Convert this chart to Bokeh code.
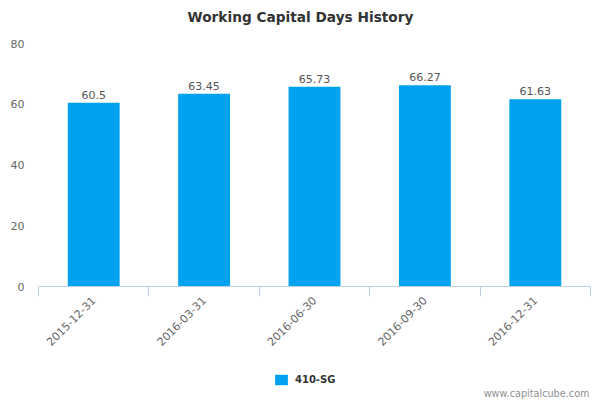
import numpy as np
from bokeh.plotting import figure
from bokeh.layouts import column
from bokeh.models import (Range1d, LinearAxis, FixedTicker, Legend, LegendItem, Label,
                          ColumnDataSource)
from bokeh.core.properties import value
from bokeh.embed import file_html
from bokeh.resources import INLINE

# ---- data ----
categories = ["2015-12-31", "2016-03-31", "2016-06-30", "2016-09-30", "2016-12-31"]
values = [60.5, 63.45, 65.73, 66.27, 61.63]
value_labels = ["60.5", "63.45", "65.73", "66.27", "61.63"]
y_ticks = [0, 20, 40, 60, 80]
series_name = "410-SG"
title_text = "Working Capital Days History"
credit_text = "www.capitalcube.com"

FONT = "DejaVu Sans"
BAR = "#00a2ef"

n = len(categories)
centers = [i + 0.5 for i in range(n)]
bounds = [float(i) for i in range(n + 1)]


def strip(height):
    s = figure(width=600, height=height, output_backend="svg", toolbar_location=None,
               x_range=Range1d(0, 1), y_range=Range1d(0, 1),
               x_axis_type=None, y_axis_type=None,
               min_border_left=0, min_border_right=0, min_border_top=0, min_border_bottom=0)
    s.outline_line_color = None
    s.xgrid.visible = False
    s.ygrid.visible = False
    s.border_fill_color = "white"
    return s


# ---- header strip: title ----
h = strip(35)
h.add_layout(Label(x=262, y=19, x_units="screen", y_units="screen", text=title_text,
                   text_align="center", text_baseline="middle", text_font=FONT,
                   text_font_size="13.7px", text_font_style="bold", text_color="#333333"))

# ---- main chart ----
p = figure(width=600, height=335, output_backend="svg", toolbar_location=None,
           x_range=Range1d(0, n), y_range=Range1d(0, 80),
           x_axis_type=None, y_axis_location="left",
           min_border_left=38, min_border_right=10, min_border_top=8, min_border_bottom=84)
p.outline_line_color = None
p.xgrid.visible = False
p.ygrid.visible = False
p.background_fill_color = "white"
p.border_fill_color = "white"

ya = p.yaxis[0]
ya.ticker = FixedTicker(ticks=y_ticks)
ya.axis_line_color = None
ya.major_tick_line_color = None
ya.minor_tick_line_color = None
ya.major_tick_in = 0
ya.major_tick_out = 0
ya.major_label_standoff = 14
ya.major_label_text_font = FONT
ya.major_label_text_font_size = "11px"
ya.major_label_text_color = "#666666"

# x axis: line + boundary ticks
xa1 = LinearAxis(ticker=FixedTicker(ticks=bounds),
                 major_label_overrides={b: "" for b in bounds})
xa1.axis_line_color = "#c0d0e0"
xa1.major_tick_line_color = "#c0d0e0"
xa1.major_tick_in = 0
xa1.major_tick_out = 10
xa1.minor_tick_line_color = None
xa1.major_label_text_font_size = "0px"
xa1.major_label_standoff = 0
p.add_layout(xa1, "below")

# x axis: labels at centres
xa2 = LinearAxis(ticker=FixedTicker(ticks=centers),
                 major_label_overrides={c: lab for c, lab in zip(centers, categories)})
xa2.axis_line_color = None
xa2.major_tick_line_color = None
xa2.minor_tick_line_color = None
xa2.major_tick_in = 0
xa2.major_tick_out = 0
xa2.major_label_standoff = 2
xa2.major_label_orientation = np.pi / 4
xa2.major_label_text_font = FONT
xa2.major_label_text_font_size = "11px"
xa2.major_label_text_color = "#666666"
p.add_layout(xa2, "below")

src = ColumnDataSource(dict(x=centers, top=values, lab=value_labels))
bars = p.vbar(x="x", top="top", width=0.47, source=src, fill_color=BAR, line_color=None)
p.text(x="x", y="top", text="lab", source=src, text_align="center", text_baseline="bottom",
       y_offset=-4, text_font=value(FONT), text_font_size="11px", text_color="#555555")

# ---- footer strip: legend + credit ----
f = strip(30)
key = f.vbar(x=[-5], top=[-1], width=0.1, fill_color=BAR, line_color=None)

legend = Legend(items=[LegendItem(label=series_name, renderers=[key])],
                location=(235, 14), orientation="horizontal",
                padding=0, margin=0, spacing=0,
                glyph_width=16, glyph_height=13, label_height=13, label_standoff=6,
                label_text_font=FONT, label_text_font_size="10px", label_text_font_style="bold",
                label_text_color="#333333", label_text_baseline="middle",
                background_fill_alpha=0, border_line_color=None)
f.add_layout(legend, "center")

f.add_layout(Label(x=551, y=7, x_units="screen", y_units="screen", text=credit_text,
                   text_align="right", text_baseline="middle", text_font=FONT,
                   text_font_size="9.7px", text_color="#909090"))

layout = column(h, p, f, spacing=0)
open("out.html", "w").write(file_html(layout, INLINE))
